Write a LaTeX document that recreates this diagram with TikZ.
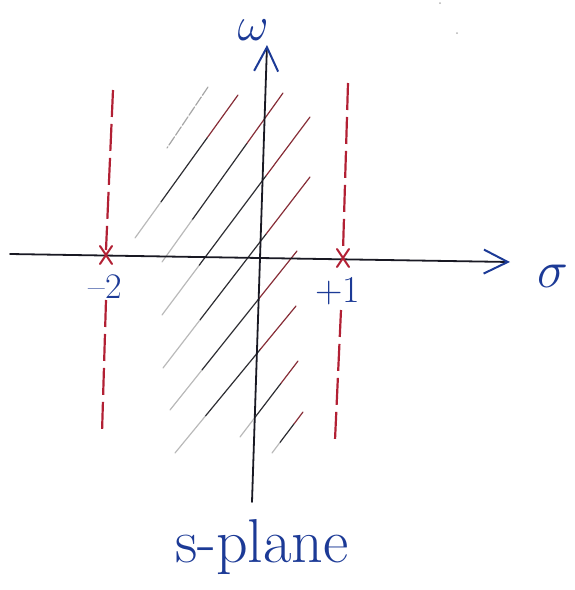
\RequirePackage{fix-cm}
\documentclass[tikz,border=0pt]{standalone}
\usetikzlibrary{arrows.meta,calc}
\definecolor{ink}{RGB}{28,58,150}
\definecolor{redink}{RGB}{178,32,52}
\definecolor{dark}{RGB}{25,25,35}
\definecolor{hred}{RGB}{135,45,55}
\definecolor{hdark}{RGB}{45,45,50}
\begin{document}
\begin{tikzpicture}[x=1pt,y=-1pt,
  axis/.style={dark,line width=1.8pt,line cap=round},
  tipv/.style={-{Straight Barb[color=ink,length=24pt,width=24pt,line width=2pt]}},
  poleline/.style={redink,line width=2.2pt,dash pattern=on 27pt off 7pt},
  polemark/.style={redink,line width=2pt,line cap=round},
  hatch/.style={line width=1.2pt,line cap=round},
  lbl/.style={text=ink,inner sep=0pt}]
\useasboundingbox (0,0) rectangle (574,590);
% specks
\fill[gray!60] (440,3) circle (1pt);
\fill[gray!60] (457,33) circle (1pt);
% hatching
\foreach \ax/\ay/\bx/\by in {238/95/135/238, 283/93/162/262, 310/117/162/315,
  310/177/163/368, 297/251/170/410, 296/306/175/453, 298/361/240/437, 303/412/272/453}{
  \coordinate (ha) at (\ax,\ay);
  \coordinate (hb) at (\bx,\by);
  \draw[hatch,hred] (ha) -- ($(ha)!0.3!(hb)$);
  \draw[hatch,hdark] ($(ha)!0.3!(hb)$) -- ($(ha)!0.75!(hb)$);
  \draw[hatch,gray!55] ($(ha)!0.75!(hb)$) -- (hb);
}
\coordinate (h1a) at (208,87);
\coordinate (h1b) at (167,148);
\draw[hatch,gray!70,dash pattern=on 10pt off 2pt] (h1a) -- (h1b);
% pole lines
\coordinate (lt) at (113,90);
\coordinate (lm) at (106,250);
\coordinate (ln) at (106,300);
\coordinate (lb) at (102,433);
\coordinate (rt) at (348,83);
\coordinate (rm) at (343,251);
\coordinate (rn) at (341,310);
\coordinate (rb) at (335,440);
\draw[poleline] (lt) -- (lm);
\draw[poleline] (ln) -- (lb);
\draw[poleline] (rt) -- (rm);
\draw[poleline] (rn) -- (rb);
% axes
\coordinate (hl) at (10,254);
\coordinate (hr) at (510,262);
\coordinate (vb) at (252,502);
\coordinate (vt) at (267,45);
\draw[axis,tipv] (hl) -- (hr);
\draw[axis,tipv] (vb) -- (vt);
% pole marks
\coordinate (p1) at (106,255);
\coordinate (p2) at (343,258);
\draw[polemark] ($(p1)+(-6,-9)$) -- ($(p1)+(6,9)$);
\draw[polemark] ($(p1)+(6,-9)$) -- ($(p1)+(-6,9)$);
\draw[polemark] ($(p2)+(-6,-9)$) -- ($(p2)+(6,9)$);
\draw[polemark] ($(p2)+(6,-9)$) -- ($(p2)+(-6,9)$);
% labels
\node[lbl] (w) at (253,30) {\fontsize{48}{48}\selectfont$\omega$};
\node[lbl] (s) at (553,276) {\fontsize{52}{52}\selectfont$\sigma$};
\node[lbl,anchor=base] (m2) at (105,298) {\fontsize{36}{36}\selectfont --2};
\node[lbl,anchor=base] (p1l) at (338,302) {\fontsize{38}{38}\selectfont +1};
\node[lbl,anchor=base] (sp) at (262,562) {\fontsize{62}{62}\selectfont s-plane};
\end{tikzpicture}
\end{document}
